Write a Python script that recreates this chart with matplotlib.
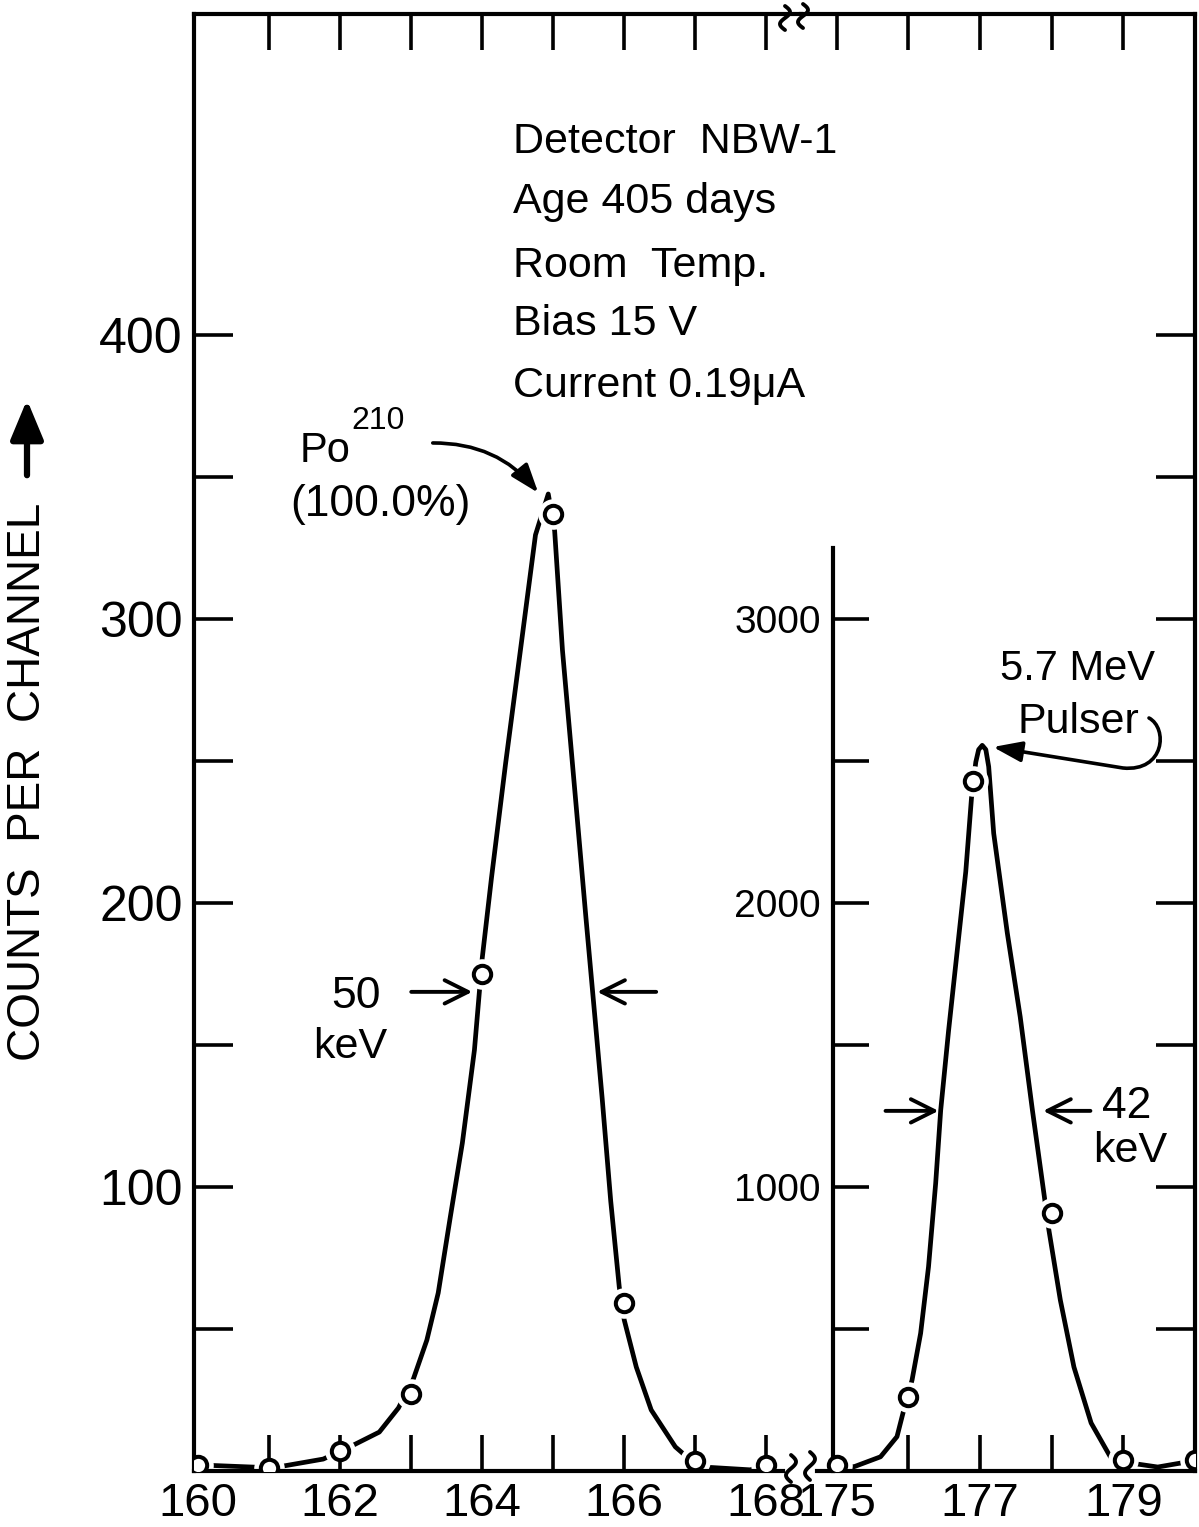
import numpy as np
import matplotlib
matplotlib.use("Agg")
import matplotlib.pyplot as plt
from matplotlib.lines import Line2D
from matplotlib.patches import FancyArrowPatch
from matplotlib.path import Path

plt.rcParams['font.family'] = ['Liberation Sans', 'DejaVu Sans']

# measured points (channel, counts per channel)
po_channels = [160, 161, 162, 163, 164, 165, 166, 167, 168]
po_counts = [2, 1, 7, 27, 175, 337, 59, 3.5, 2]

pulser_channels = [175, 176, 176.9, 178, 179, 180]
pulser_counts = [20, 260, 2430, 910, 40, 40]

# hand-drawn curves
po_curve_ch = [160.06, 161.06, 161.77, 162.17, 162.56, 162.83, 163.04, 163.23, 163.39,
               163.56, 163.73, 163.90, 164.01, 164.14, 164.34, 164.55, 164.76, 164.94,
               165.03, 165.14, 165.33, 165.47, 165.60, 165.70, 165.82, 165.94, 166.01,
               166.18, 166.39, 166.73, 166.96, 167.13, 167.79, 167.93]
po_curve_counts = [2.1, 1.1, 4.2, 8.8, 13.7, 22.2, 32.4, 46.1, 62.7,
                   89.4, 115.5, 148.2, 180.6, 208.8, 249.3, 289.4, 329.6, 344,
                   331, 289, 235, 195, 159, 131, 95, 64.8, 53.2,
                   36.6, 21.5, 8.5, 3.5, 1.4, 0.4, 2]

pulser_curve_ch = [175.08, 175.24, 175.61, 175.84, 175.96, 176.05, 176.17, 176.28, 176.38,
                   176.45, 176.56, 176.68, 176.80, 176.88, 176.94, 176.98, 177.03, 177.08,
                   177.12, 177.19, 177.38, 177.56, 177.73, 177.89, 177.96, 178.12, 178.31,
                   178.55, 178.82, 178.94, 179.10, 179.48, 179.80, 179.92]
pulser_curve_counts = [21, 15, 50, 121, 240, 320, 485, 719, 1013,
                       1270, 1550, 1830, 2110, 2370, 2496, 2540, 2555, 2540,
                       2480, 2245, 1894, 1599, 1271, 979, 849, 602, 366,
                       169, 49, 39, 28, 14, 28, 39]

left_ticks = [160, 161, 162, 163, 164, 165, 166, 167, 168]
left_labels = ['160', '', '162', '', '164', '', '166', '', '168']
right_ticks = [175, 176, 177, 178, 179]
right_labels = ['175', '', '177', '', '179']
y_ticks = [50, 100, 150, 200, 250, 300, 350, 400]
y_labels = ['', '100', '', '200', '', '300', '', '400']
inner_ticks = [500, 1000, 1500, 2000, 2500, 3000]
inner_labels = ['', '1000', '', '2000', '', '3000']

W, H = 1199, 1527


def fx(x):
    return x / W


def fy(y):
    return 1 - y / H


fig = plt.figure(figsize=(W / 100, H / 100), dpi=100)
bottom, top = 1471, 14
ax1 = fig.add_axes([fx(194), fy(bottom), fx(801) - fx(194), (bottom - top) / H])
ax2 = fig.add_axes([fx(801), fy(bottom), fx(1195) - fx(801), (bottom - top) / H])
ax2r = ax2.twinx()

spine_w = 3.0
tick_kw = dict(direction='in', width=2.6, color='black')
curve_kw = dict(color='black', lw=3.4, zorder=2, solid_capstyle='round', solid_joinstyle='round')

# ---- left panel: Po-210 peak
ax1.set_xlim(159.95, 168.5)
ax1.set_ylim(0, 513)
ax1.spines['right'].set_visible(False)
for s in ['left', 'top', 'bottom']:
    ax1.spines[s].set_linewidth(spine_w)
ax1.spines['bottom'].set_bounds(159.95, 168.24)
ax1.set_axisbelow(False)
ax1.tick_params(axis='x', top=True, bottom=True, length=26, pad=8, labelsize=34, **tick_kw)
ax1.tick_params(axis='y', left=True, right=False, length=28, pad=8, labelsize=36, **tick_kw)
ax1.set_xticks(left_ticks, labels=left_labels)
ax1.set_yticks(y_ticks, labels=y_labels)
t0 = ax1.xaxis.get_major_ticks()[0]
t0.tick1line.set_visible(False)
t0.tick2line.set_visible(False)

ax1.plot(po_curve_ch, po_curve_counts, **curve_kw)
ax1.plot(po_channels, po_counts, 'o', ms=22, mfc='white', mec='none', zorder=2.2)
ax1.plot(po_channels, po_counts, 'o', ms=12.5, mfc='white', mec='black', mew=2.9, zorder=3)

# ---- right panel: pulser peak
ax2.set_xlim(174.5, 180.0)
ax2.set_ylim(0, 5130)
ax2.patch.set_visible(False)
for s in ['left', 'top', 'bottom', 'right']:
    ax2.spines[s].set_linewidth(spine_w)
ax2.spines['left'].set_position(('data', 174.95))
ax2.spines['left'].set_bounds(0, 3250)
ax2.spines['bottom'].set_bounds(174.73, 180.0)
ax2.set_axisbelow(False)
ax2.tick_params(axis='x', top=True, bottom=True, length=26, pad=8, labelsize=34, **tick_kw)
ax2.tick_params(axis='y', left=True, right=False, length=26, pad=9, labelsize=28, **tick_kw)
ax2.set_xticks(right_ticks, labels=right_labels)
ax2.set_yticks(inner_ticks, labels=inner_labels)
ax2.xaxis.get_major_ticks()[0].tick1line.set_visible(False)

ax2.plot(pulser_curve_ch, pulser_curve_counts, **curve_kw)
ax2.plot(pulser_channels, pulser_counts, 'o', ms=22, mfc='white', mec='none', zorder=2.2)
ax2.plot(pulser_channels, pulser_counts, 'o', ms=12.5, mfc='white', mec='black', mew=2.9, zorder=3)

# outer right frame ticks on the counts scale of the left panel
ax2r.set_ylim(0, 513)
for s in ax2r.spines.values():
    s.set_visible(False)
ax2r.tick_params(axis='y', right=True, left=False, labelright=False, length=28, **tick_kw)
ax2r.set_yticks(y_ticks)

# ---- axis label
fig.text(fx(28), fy(782), 'COUNTS  PER  CHANNEL', rotation=90, ha='center', va='center',
         fontsize=33)
fig.add_artist(FancyArrowPatch((fx(27), fy(478)), (fx(27), fy(397)), transform=fig.transFigure,
                               arrowstyle='-|>,head_length=1.2,head_width=0.5',
                               mutation_scale=20, lw=4.5, color='black'))

# ---- info block
info = ['Detector  NBW-1', 'Age 405 days', 'Room  Temp.', 'Bias 15 V', 'Current 0.19\u03bcA']
info_base = [153, 213, 277, 335, 397]
for line, yb in zip(info, info_base):
    fig.text(fx(513), fy(yb), line, ha='left', va='baseline', fontsize=31)

# ---- Po annotation
fig.text(fx(300), fy(462), 'Po', ha='left', va='baseline', fontsize=30)
fig.text(fx(351), fy(429), '210', ha='left', va='baseline', fontsize=23)
fig.text(fx(380), fy(516), '(100.0%)', ha='center', va='baseline', fontsize=32)
fig.add_artist(FancyArrowPatch((fx(430), fy(443)), (fx(540), fy(495)), transform=fig.transFigure,
                               connectionstyle='arc3,rad=-0.25',
                               arrowstyle='-|>,head_length=0.7,head_width=0.25',
                               mutation_scale=25, lw=2.6, color='black'))

# ---- FWHM markers
fwhm_style = dict(arrowstyle='->,head_length=0.6,head_width=0.3', lw=2.8,
                  shrinkA=0, shrinkB=0, mutation_scale=28)
half_po = 168.7
ax1.annotate('', xy=(163.87, half_po), xytext=(163.01, half_po), arrowprops=fwhm_style)
ax1.annotate('', xy=(165.63, half_po), xytext=(166.46, half_po), arrowprops=fwhm_style)
fig.text(fx(356), fy(1008), '50', ha='center', va='baseline', fontsize=32)
fig.text(fx(350), fy(1058), 'keV', ha='center', va='baseline', fontsize=31)

half_pulser = 1268
ax2.annotate('', xy=(176.42, half_pulser), xytext=(175.68, half_pulser), arrowprops=fwhm_style)
ax2.annotate('', xy=(177.88, half_pulser), xytext=(178.54, half_pulser), arrowprops=fwhm_style)
fig.text(fx(1127), fy(1118), '42', ha='center', va='baseline', fontsize=32)
fig.text(fx(1130), fy(1162), 'keV', ha='center', va='baseline', fontsize=31)

# ---- pulser annotation
fig.text(fx(1078), fy(680), '5.7 MeV', ha='center', va='baseline', fontsize=30)
fig.text(fx(1078), fy(733), 'Pulser', ha='center', va='baseline', fontsize=31)
hook = [(1149, 718), (1168, 728), (1165, 772), (1123, 768), (993, 747)]
hook_path = Path([(fx(x), fy(y)) for x, y in hook],
                 [Path.MOVETO, Path.CURVE4, Path.CURVE4, Path.CURVE4, Path.LINETO])
fig.add_artist(FancyArrowPatch(path=hook_path, transform=fig.transFigure,
                               arrowstyle='-|>,head_length=0.7,head_width=0.25',
                               mutation_scale=25, lw=2.6, color='black'))


# ---- scale-break marks
def squiggle(xc, y0, y1, amp=5):
    t = np.linspace(0, 1, 40)
    xs = xc + amp * np.sin(2 * np.pi * t)
    ys = y0 + (y1 - y0) * t
    fig.add_artist(Line2D(fx(xs), fy(ys), lw=2.8, color='black',
                          solid_capstyle='round'))


squiggle(791, 1455, 1482)
squiggle(810, 1452, 1480)
squiggle(785, 6, 30)
squiggle(803, 4, 28)

fig.savefig('out.png', dpi=100)
